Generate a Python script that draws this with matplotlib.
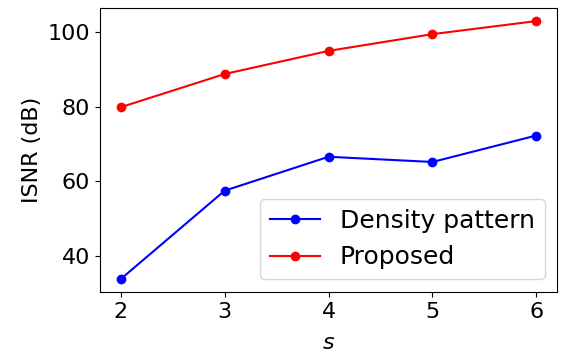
import matplotlib
matplotlib.use("Agg")
import matplotlib.pyplot as plt

# Values
s_values = [2, 3, 4, 5, 6]
density_pattern = [33.8, 57.5, 66.6, 65.2, 72.3]
proposed = [79.9, 88.8, 95.0, 99.5, 103.0]

plt.rcParams['font.size'] = 16

fig, ax = plt.subplots(figsize=(5.65, 3.56), dpi=100)
ax.plot(s_values, density_pattern, 'o-', color='blue', label='Density pattern')
ax.plot(s_values, proposed, 'o-', color='red', label='Proposed')
ax.set_xlabel('$s$', labelpad=8)
ax.set_ylabel('ISNR (dB)')
ax.set_xticks(s_values)
ax.set_yticks([40, 60, 80, 100])
ax.legend(loc='lower right', fontsize=18)

fig.subplots_adjust(left=0.177, right=0.986, top=0.977, bottom=0.18)
fig.savefig('out.png')
